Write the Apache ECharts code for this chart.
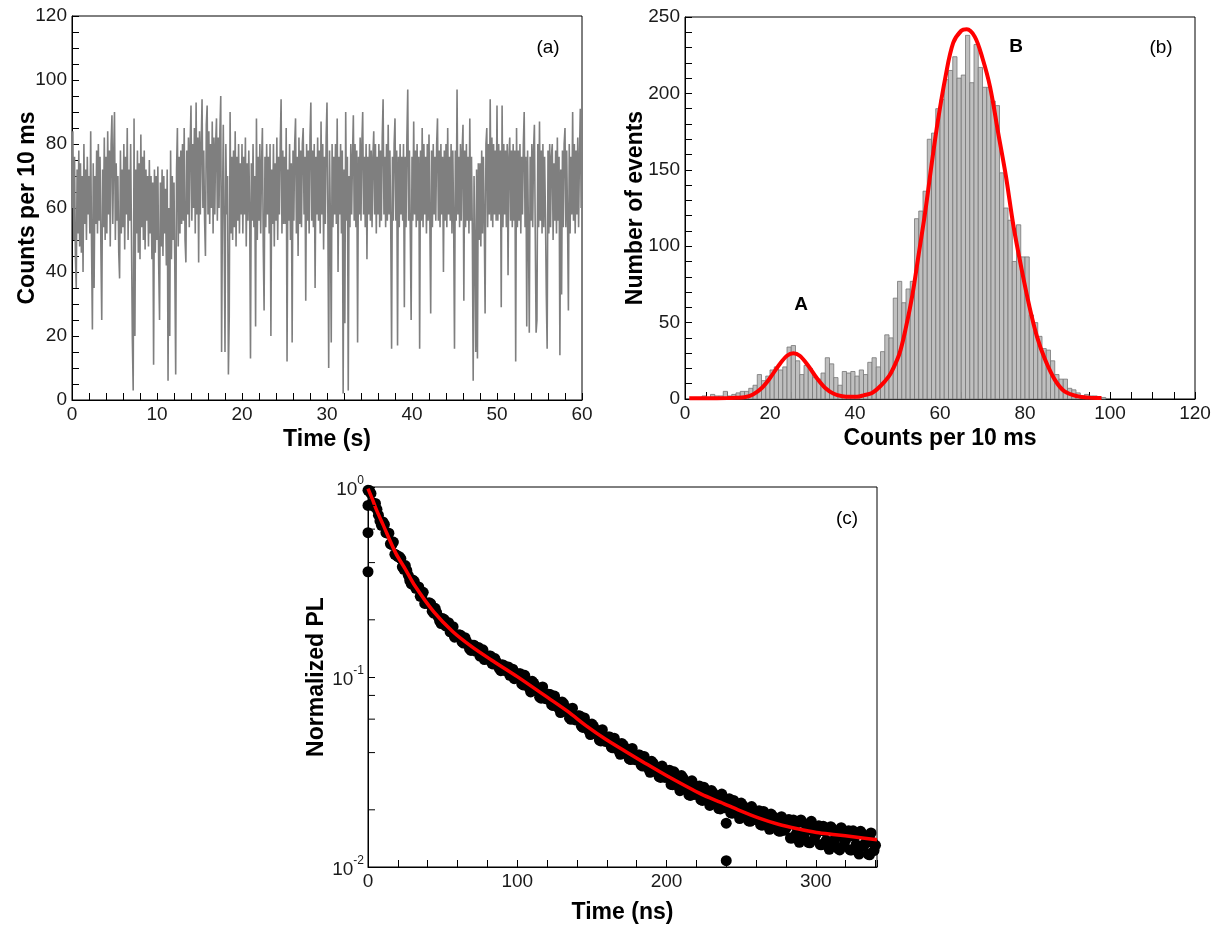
<!DOCTYPE html>
<html><head><meta charset="utf-8">
<script src="https://cdn.jsdelivr.net/npm/echarts@6/dist/echarts.min.js"></script>
<style>html,body{margin:0;padding:0;background:#fff}#c{width:1221px;height:925px}</style>
</head><body><div id="c"></div>
<script>
// ---------- Panel (a): time trace, counts per 10 ms, sampled every 0.1 s ----------
const traceStart = 0;
const traceStep = 0.1;
const traceValues = [
60,84,50,76,45,35,72,52,78,48,
74,46,70,40,80,55,72,50,76,58,
70,52,84,48,22,74,35,70,55,78,
52,80,56,76,47,25,72,54,82,50,
76,52,84,58,78,48,80,89,55,76,
90,50,74,56,70,46,38,78,52,72,
54,80,47,76,58,85,50,72,56,80,
50,19,3,88,20,72,52,78,46,74,
44,83,54,76,50,78,47,72,56,70,
48,75,52,70,44,68,11,72,46,70,
50,73,42,25,68,48,72,45,70,52,
66,42,72,6,60,20,78,44,70,50,
68,40,8,72,85,48,76,52,78,55,
80,56,85,50,43,78,58,82,54,80,
92,56,80,60,85,52,93,58,82,43,
84,58,80,94,60,78,56,45,86,92,
58,84,55,80,60,87,52,82,58,80,
88,56,82,60,84,95,15,60,86,54,
15,80,58,70,8,26,90,52,76,50,
78,54,84,48,76,56,80,52,74,58,
80,52,76,58,82,48,74,56,78,60,
13,74,56,80,54,70,23,88,50,76,
56,80,52,74,85,48,28,76,54,80,
58,76,52,80,20,72,55,80,48,74,
56,82,50,76,58,80,94,52,78,55,
76,55,85,12,72,56,80,50,74,18,
78,56,80,88,52,76,45,82,55,78,
54,80,85,58,76,31,80,56,78,52,
82,93,56,78,54,80,35,76,58,82,
56,78,52,87,58,80,47,76,55,82,
93,58,10,78,56,18,80,54,76,58,
80,55,88,40,76,58,80,52,78,2,
72,24,90,56,76,3,70,54,80,58,
76,89,56,80,54,78,18,76,58,82,
56,80,90,58,76,54,80,44,76,58,
80,56,78,54,76,84,58,80,52,76,
58,80,54,78,56,82,94,58,76,54,
80,56,86,58,78,54,16,76,56,80,
88,56,78,17,76,54,80,58,76,56,
80,29,76,54,82,97,56,78,52,25,
76,56,87,58,78,54,80,56,76,16,
78,56,85,54,80,58,76,52,80,56,
83,56,27,78,54,80,58,76,56,80,
88,56,78,54,80,58,76,40,78,56,
80,54,85,58,76,56,80,52,78,56,
16,78,56,97,58,76,54,80,56,78,
86,31,78,54,80,56,76,52,88,56,
76,52,6,70,48,15,72,13,74,50,
74,48,78,52,76,56,27,80,85,54,
80,58,94,56,82,54,80,58,78,56,
92,56,80,58,78,29,92,54,80,58,
78,54,80,39,76,82,56,78,54,80,
56,78,12,85,54,78,56,80,52,76,
58,80,90,54,76,23,78,52,21,76,
56,80,54,78,86,52,21,25,80,54,
87,56,78,52,80,54,76,58,33,16,
78,52,80,54,76,80,50,74,56,78,
52,82,56,76,14,72,33,78,54,80,
85,54,78,56,28,80,52,76,58,90,
56,80,52,78,58,82,54,76,91,60,
66
];

// ---------- Panel (b): histogram, bins [k, k+1] starting at k = 1 ----------
const histBinStart = 1;
const histCounts = [
0,1,1,2,1,3,2,2,5,2,
3,4,5,5,7,9,16,12,15,19,
21,19,21,34,35,25,16,22,20,14,
13,17,27,23,14,9,18,17,18,15,
19,16,24,27,21,31,42,40,66,77,
63,72,77,118,123,136,170,174,190,196,
209,215,224,210,212,238,207,232,217,204,
204,195,192,148,125,117,90,114,93,93,
55,50,41,33,32,25,16,13,13,7,
6,4,2,3,2,2,1,1
];
const histFitX = [1,5,10,12,14,16,18,20,22,24,25.5,27,29,31,33,35,37,39,40.5,42,44,46,48,49,50.5,52,53.5,55,56.5,58,59.5,61.3,63.1,65,66.3,68.2,70,71.8,73.7,75.5,77.3,79.2,81,82.8,84.7,87,89.3,92.5,95,98];
const histFitY = [0.5,0.5,0.6,0.8,1.2,3,7,13.7,21.8,28.3,30,28.3,21.8,13.7,7.2,3.4,1.8,1.4,1.5,2.4,4,8.5,15,20,30,47,68,95,122,153,182,211,233,241,242,237,223,204,174,146,113,85,61,41,26,12.7,5,1.7,0.9,0.6];

// ---------- Panel (c): PL decay points, even times 0..340 ns and odd times 1..339 ns ----------
const decayEvenStart = 0;
const decayOddStart = 1;
const decayStep = 2;
const decayEven = [
0.96,0.925,0.79,0.763,0.662,0.655,0.576,0.571,0.498,0.442,
0.43,0.42,0.369,0.364,0.322,0.324,0.293,0.298,0.267,0.244,
0.244,0.243,0.217,0.218,0.197,0.203,0.186,0.193,0.175,0.162,
0.165,0.166,0.151,0.154,0.141,0.147,0.137,0.143,0.132,0.1235,
0.127,0.129,0.117,0.120,0.111,0.116,0.108,0.113,0.104,0.098,
0.1005,0.104,0.0908,0.096,0.0873,0.0949,0.0848,0.0878,0.0774,0.0811,
0.0783,0.081,0.0708,0.0748,0.068,0.0739,0.066,0.0681,0.0599,0.0626,
0.0604,0.0623,0.0543,0.0574,0.052,0.0565,0.0505,0.0522,0.0461,0.0483,
0.0466,0.0483,0.0424,0.045,0.041,0.0447,0.0401,0.0416,0.0368,0.0386,
0.0374,0.0388,0.034,0.0362,0.0329,0.036,0.0322,0.0335,0.0296,0.0312,
0.0302,0.0323,0.0271,0.030,0.0266,0.0303,0.0262,0.028,0.0238,0.0259,
0.0249,0.0267,0.0224,0.0249,0.0222,0.0253,0.022,0.0236,0.0202,0.022,
0.0213,0.0229,0.0192,0.0213,0.019,0.0217,0.0188,0.0204,0.0174,0.019,
0.0184,0.0198,0.0166,0.0186,0.0166,0.019,0.0166,0.0179,0.0154,0.0169,
0.0160,0.0178,0.0142,0.0166,0.0145,0.0177,0.0148,0.0165,0.0134,0.0156,
0.0148,0.0165,0.0131,0.0154,0.0134,0.0163,0.0136,0.0152,0.0123,0.0144,
0.0139,0.0155,0.0123,0.0144,0.0126,0.0154,0.0129,0.0144,0.0116,0.0135,
0.0130
];
const decayOdd = [
0.958,0.826,0.82,0.711,0.629,0.635,0.572,0.502,0.513,0.438,
0.43,0.38,0.386,0.343,0.309,0.319,0.294,0.266,0.279,0.245,
0.246,0.222,0.23,0.207,0.191,0.201,0.189,0.173,0.184,0.165,
0.167,0.153,0.161,0.148,0.138,0.147,0.139,0.129,0.139,0.125,
0.129,0.118,0.125,0.116,0.108,0.115,0.110,0.102,0.110,0.100,
0.104,0.092,0.102,0.0902,0.0835,0.0929,0.0863,0.0783,0.0886,0.0769,
0.0812,0.0716,0.0794,0.0703,0.065,0.0723,0.0671,0.0607,0.0685,0.0594,
0.0626,0.0551,0.0609,0.0538,0.0498,0.0552,0.0513,0.0466,0.0528,0.0458,
0.0484,0.0428,0.0476,0.0423,0.0392,0.0438,0.0408,0.0371,0.0421,0.0367,
0.0389,0.0344,0.0382,0.034,0.0315,0.0352,0.0328,0.0299,0.034,0.0296,
0.032,0.0272,0.0317,0.0275,0.0252,0.0294,0.0267,0.024,0.0284,0.0241,
0.0264,0.0226,0.0263,0.0228,0.0211,0.0246,0.0225,0.0203,0.0242,0.0205,
0.0226,0.0193,0.0224,0.0195,0.018,0.0211,0.0193,0.0175,0.0208,0.0178,
0.0196,0.0167,0.0196,0.0171,0.0158,0.0186,0.017,0.0155,0.0184,0.0156,
0.0176,0.0142,0.0177,0.015,0.0135,0.0172,0.0153,0.0135,0.0174,0.0141,
0.0162,0.0131,0.0164,0.0138,0.0124,0.0159,0.0141,0.0125,0.0161,0.0131,
0.0152,0.0123,0.0155,0.0131,0.0117,0.015,0.0133,0.0117,0.0151,0.0122
];
const decayOutliers = [[0,0.80],[0,0.575],[0,0.358],[240,0.017],[240,0.0108]];
const decayFitT = [0,3,5.6,10,18.5,25,31.3,44.1,56.9,69.7,82.6,100,121,133.8,146.7,159.5,172.3,185.1,200.5,223.6,236.4,249.2,262,274.9,287.7,300.5,313.3,326.2,341];
const decayFitV = [0.98,0.86,0.76,0.636,0.45,0.37,0.303,0.22,0.173,0.144,0.123,0.1005,0.0774,0.0659,0.055,0.0469,0.0407,0.0354,0.0301,0.0241,0.0219,0.0198,0.0181,0.0168,0.0159,0.0152,0.0148,0.0144,0.0139];
const logMinorTicks = [0.02,0.04,0.06,0.08,0.2,0.4,0.6,0.8];

// ---------- chart ----------
const FONT = '"Liberation Sans", Arial, Helvetica, sans-serif';
const TXT = '#1a1a1a';
const TICK_FS = 19;
const NAME_FS = 23;
const chart = echarts.init(document.getElementById('c'), null, {renderer: 'canvas'});

function valAxis(gridIndex, min, max, interval, labelEvery, name, nameGap) {
  return {
    type: 'value', gridIndex, min, max, interval,
    name, nameLocation: 'middle', nameGap, nameMoveOverlap: false,
    nameTextStyle: {fontFamily: FONT, fontWeight: 'bold', fontSize: NAME_FS, color: '#000'},
    axisLine: {show: true, onZero: false, lineStyle: {color: '#000', width: 1}},
    axisTick: {show: true, inside: true, length: 7, lineStyle: {color: '#000', width: 1}},
    splitLine: {show: false},
    axisLabel: {
      fontFamily: FONT, fontSize: TICK_FS, color: TXT, margin: 5,
      formatter: v => (Math.abs(v % labelEvery) < 1e-9 && v <= max) ? String(v) : ''
    }
  };
}

const xA = valAxis(0, 0, 60, 2, 10, 'Time (s)', 28);
const yA = valAxis(0, 0, 120, 5, 20, 'Counts per 10 ms', 33);
const xB = valAxis(1, 0, 120, 5, 20, 'Counts per 10 ms', 28);
const yB = valAxis(1, 0, 250, 10, 50, 'Number of events', 38);
const xC = valAxis(2, 0, 341, 20, 100, 'Time (ns)', 34);
xC.axisLabel.formatter = v => (v % 100 === 0 && v <= 300) ? String(v) : '';
const yC = {
  type: 'log', logBase: 10, gridIndex: 2, min: 0.01, max: 1,
  name: 'Normalized PL', nameLocation: 'middle', nameGap: 40, nameMoveOverlap: false,
  nameTextStyle: {fontFamily: FONT, fontWeight: 'bold', fontSize: NAME_FS, color: '#000'},
  axisLine: {show: true, onZero: false, lineStyle: {color: '#000', width: 1}},
  axisTick: {show: true, inside: true, length: 7, lineStyle: {color: '#000', width: 1}},
  minorTick: {show: false},
  splitLine: {show: false},
  axisLabel: {
    margin: 4,
    formatter: v => '{b|10}{s|' + Math.round(Math.log10(v)) + '}',
    rich: {
      b: {fontFamily: FONT, fontSize: TICK_FS, color: TXT, lineHeight: 24, verticalAlign: 'bottom'},
      s: {fontFamily: FONT, fontSize: 12, color: TXT, lineHeight: 14, verticalAlign: 'top'}
    }
  }
};

const gridStyle = {show: true, borderColor: '#000', borderWidth: 1, backgroundColor: 'transparent', containLabel: false};

const textEl = (x, y, text, bold) => ({
  type: 'text', x, y, z: 100,
  style: {text, fill: '#000', font: (bold ? 'bold ' : '') + '19px ' + FONT, align: 'center', verticalAlign: 'middle', textAlign: 'center', textVerticalAlign: 'middle'}
});

const decayPoints = decayEven.map((v, i) => [decayEvenStart + i * decayStep, v])
  .concat(decayOdd.map((v, i) => [decayOddStart + i * decayStep, v]))
  .concat(decayOutliers);

const option = {
  animation: false,
  backgroundColor: '#fff',
  grid: [
    Object.assign({left: 72, top: 16, width: 510, height: 384}, gridStyle),
    Object.assign({left: 685, top: 17, width: 510, height: 382}, gridStyle),
    Object.assign({left: 368, top: 487, width: 509, height: 381}, gridStyle)
  ],
  xAxis: [xA, xB, xC],
  yAxis: [yA, yB, yC],
  graphic: [
    textEl(548, 48, '(a)', false),
    textEl(1161, 48, '(b)', false),
    textEl(801, 305, 'A', true),
    textEl(1016, 47, 'B', true),
    textEl(847, 519, '(c)', false)
  ],
  series: [
    {
      type: 'line', xAxisIndex: 0, yAxisIndex: 0,
      data: traceValues.map((v, i) => [traceStart + i * traceStep, v]),
      showSymbol: false, symbol: 'none',
      lineStyle: {color: '#7f7f7f', width: 1.6, join: 'bevel'}, z: 2
    },
    {
      type: 'custom', xAxisIndex: 1, yAxisIndex: 1,
      data: histCounts.map((c, i) => [histBinStart + i, c]),
      encode: {x: 0, y: 1},
      renderItem: (params, api) => {
        const k = api.value(0), c = api.value(1);
        const p0 = api.coord([k, 0]), p1 = api.coord([k + 1, c]);
        return {type: 'rect', shape: {x: p0[0], y: p1[1], width: p1[0] - p0[0], height: p0[1] - p1[1]},
          style: {fill: '#bfbfbf', stroke: '#767676', lineWidth: 0.8}};
      },
      z: 2
    },
    {
      type: 'line', xAxisIndex: 1, yAxisIndex: 1,
      data: histFitX.map((x, i) => [x, histFitY[i]]),
      smooth: 0.35, showSymbol: false, symbol: 'none',
      lineStyle: {color: '#ff0000', width: 4}, z: 5
    },
    {
      type: 'scatter', xAxisIndex: 2, yAxisIndex: 2,
      data: decayPoints,
      symbol: 'circle', symbolSize: 11, large: false,
      itemStyle: {color: '#000', opacity: 1}, z: 3
    },
    {
      type: 'line', xAxisIndex: 2, yAxisIndex: 2,
      data: decayFitT.map((t, i) => [t, decayFitV[i]]),
      smooth: 0.3, showSymbol: false, symbol: 'none',
      lineStyle: {color: '#ff0000', width: 3.5}, z: 5
    },
    {
      type: 'custom', xAxisIndex: 2, yAxisIndex: 2, silent: true,
      data: logMinorTicks.map(v => [0, v]),
      encode: {x: 0, y: 1},
      renderItem: (params, api) => {
        const p = api.coord([0, api.value(1)]);
        return {type: 'line', shape: {x1: p[0], y1: p[1], x2: p[0] + 7, y2: p[1]}, style: {stroke: '#000', lineWidth: 1}};
      },
      z: 6
    }
  ]
};
chart.setOption(option);
</script>
</body></html>
